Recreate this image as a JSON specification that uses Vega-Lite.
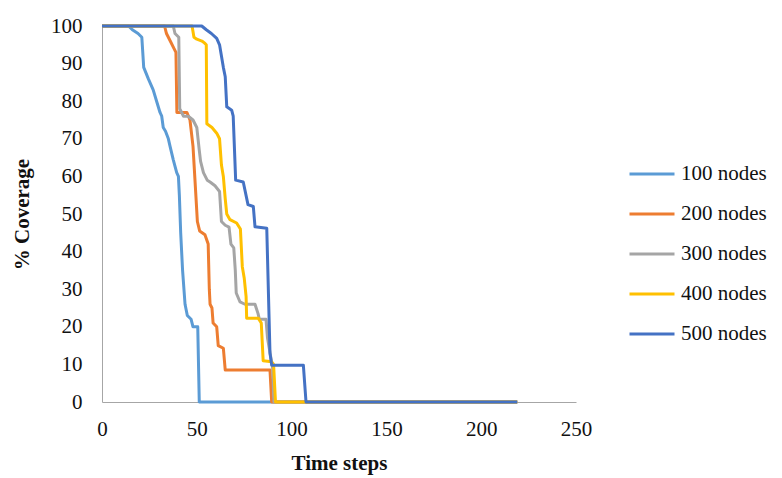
{
  "$schema": "https://vega.github.io/schema/vega-lite/v6.json",
  "width": 474,
  "height": 376,
  "autosize": "none",
  "padding": {"left": 102, "top": 26, "right": 206, "bottom": 76},
  "background": "white",
  "config": {
    "view": {"stroke": null},
    "font": "Liberation Serif",
    "style": {
      "guide-label": {"font": "Liberation Serif", "fontSize": 21, "fill": "#111111"},
      "guide-title": {"font": "Liberation Serif", "fontSize": 21, "fill": "#111111"}
    },
    "axis": {
      "grid": false,
      "ticks": false,
      "labelFlush": false,
      "domainColor": "#A6A6A6",
      "domainWidth": 1,
      "labelFont": "Liberation Serif",
      "labelFontSize": 21,
      "labelColor": "#111111",
      "titleFont": "Liberation Serif",
      "titleFontSize": 21,
      "titleFontWeight": "bold",
      "titleColor": "#111111"
    },
    "legend": {
      "labelFont": "Liberation Serif",
      "labelFontSize": 21,
      "labelColor": "#111111"
    }
  },
  "data": {
    "values": [
      {"s": "100 nodes", "i": 1, "t": 0, "v": 100},
      {"s": "100 nodes", "i": 2, "t": 14, "v": 100},
      {"s": "100 nodes", "i": 3, "t": 16, "v": 99},
      {"s": "100 nodes", "i": 4, "t": 19, "v": 98},
      {"s": "100 nodes", "i": 5, "t": 21, "v": 97},
      {"s": "100 nodes", "i": 6, "t": 22, "v": 89},
      {"s": "100 nodes", "i": 7, "t": 24.4, "v": 86},
      {"s": "100 nodes", "i": 8, "t": 27, "v": 83},
      {"s": "100 nodes", "i": 9, "t": 28.8, "v": 80},
      {"s": "100 nodes", "i": 10, "t": 30.6, "v": 77},
      {"s": "100 nodes", "i": 11, "t": 31.5, "v": 76},
      {"s": "100 nodes", "i": 12, "t": 32.3, "v": 73},
      {"s": "100 nodes", "i": 13, "t": 33.5, "v": 72},
      {"s": "100 nodes", "i": 14, "t": 35, "v": 70},
      {"s": "100 nodes", "i": 15, "t": 35.9, "v": 68},
      {"s": "100 nodes", "i": 16, "t": 37.6, "v": 64.4},
      {"s": "100 nodes", "i": 17, "t": 39.4, "v": 61},
      {"s": "100 nodes", "i": 18, "t": 40.3, "v": 60},
      {"s": "100 nodes", "i": 19, "t": 40.8, "v": 55},
      {"s": "100 nodes", "i": 20, "t": 41.5, "v": 45},
      {"s": "100 nodes", "i": 21, "t": 42.5, "v": 35},
      {"s": "100 nodes", "i": 22, "t": 43.8, "v": 26},
      {"s": "100 nodes", "i": 23, "t": 45, "v": 23},
      {"s": "100 nodes", "i": 24, "t": 47, "v": 22},
      {"s": "100 nodes", "i": 25, "t": 48, "v": 20},
      {"s": "100 nodes", "i": 26, "t": 50.5, "v": 20},
      {"s": "100 nodes", "i": 27, "t": 51.3, "v": 0},
      {"s": "100 nodes", "i": 28, "t": 219, "v": 0},

      {"s": "200 nodes", "i": 1, "t": 0, "v": 100},
      {"s": "200 nodes", "i": 2, "t": 33, "v": 100},
      {"s": "200 nodes", "i": 3, "t": 34, "v": 98},
      {"s": "200 nodes", "i": 4, "t": 36, "v": 96},
      {"s": "200 nodes", "i": 5, "t": 38, "v": 94},
      {"s": "200 nodes", "i": 6, "t": 39, "v": 93},
      {"s": "200 nodes", "i": 7, "t": 39.5, "v": 77},
      {"s": "200 nodes", "i": 8, "t": 44.8, "v": 77},
      {"s": "200 nodes", "i": 9, "t": 46.4, "v": 75},
      {"s": "200 nodes", "i": 10, "t": 48, "v": 68},
      {"s": "200 nodes", "i": 11, "t": 49.5, "v": 55},
      {"s": "200 nodes", "i": 12, "t": 50.3, "v": 48},
      {"s": "200 nodes", "i": 13, "t": 51.5, "v": 45.5},
      {"s": "200 nodes", "i": 14, "t": 54.3, "v": 44.5},
      {"s": "200 nodes", "i": 15, "t": 56, "v": 42},
      {"s": "200 nodes", "i": 16, "t": 56.6, "v": 30},
      {"s": "200 nodes", "i": 17, "t": 57, "v": 26},
      {"s": "200 nodes", "i": 18, "t": 58, "v": 25},
      {"s": "200 nodes", "i": 19, "t": 58.6, "v": 21},
      {"s": "200 nodes", "i": 20, "t": 60.5, "v": 20},
      {"s": "200 nodes", "i": 21, "t": 61.3, "v": 15},
      {"s": "200 nodes", "i": 22, "t": 64, "v": 14.3},
      {"s": "200 nodes", "i": 23, "t": 65, "v": 8.5},
      {"s": "200 nodes", "i": 24, "t": 88.6, "v": 8.5},
      {"s": "200 nodes", "i": 25, "t": 89.5, "v": 0},
      {"s": "200 nodes", "i": 26, "t": 219, "v": 0},

      {"s": "300 nodes", "i": 1, "t": 0, "v": 100},
      {"s": "300 nodes", "i": 2, "t": 37.6, "v": 100},
      {"s": "300 nodes", "i": 3, "t": 38.5, "v": 98},
      {"s": "300 nodes", "i": 4, "t": 40.5, "v": 97},
      {"s": "300 nodes", "i": 5, "t": 41, "v": 78},
      {"s": "300 nodes", "i": 6, "t": 43, "v": 76},
      {"s": "300 nodes", "i": 7, "t": 45.5, "v": 76},
      {"s": "300 nodes", "i": 8, "t": 48, "v": 75},
      {"s": "300 nodes", "i": 9, "t": 50, "v": 73},
      {"s": "300 nodes", "i": 10, "t": 51.3, "v": 67},
      {"s": "300 nodes", "i": 11, "t": 52, "v": 64},
      {"s": "300 nodes", "i": 12, "t": 53.5, "v": 61},
      {"s": "300 nodes", "i": 13, "t": 55.5, "v": 59},
      {"s": "300 nodes", "i": 14, "t": 57, "v": 58.5},
      {"s": "300 nodes", "i": 15, "t": 59.6, "v": 57.5},
      {"s": "300 nodes", "i": 16, "t": 62, "v": 56},
      {"s": "300 nodes", "i": 17, "t": 63, "v": 48},
      {"s": "300 nodes", "i": 18, "t": 65, "v": 47},
      {"s": "300 nodes", "i": 19, "t": 67, "v": 46.5},
      {"s": "300 nodes", "i": 20, "t": 68, "v": 42},
      {"s": "300 nodes", "i": 21, "t": 69.5, "v": 41},
      {"s": "300 nodes", "i": 22, "t": 70.3, "v": 35},
      {"s": "300 nodes", "i": 23, "t": 70.8, "v": 29},
      {"s": "300 nodes", "i": 24, "t": 72.8, "v": 26.6},
      {"s": "300 nodes", "i": 25, "t": 75.4, "v": 26},
      {"s": "300 nodes", "i": 26, "t": 80.7, "v": 26},
      {"s": "300 nodes", "i": 27, "t": 82.3, "v": 23.5},
      {"s": "300 nodes", "i": 28, "t": 83, "v": 22},
      {"s": "300 nodes", "i": 29, "t": 86.5, "v": 22},
      {"s": "300 nodes", "i": 30, "t": 87.3, "v": 17},
      {"s": "300 nodes", "i": 31, "t": 89, "v": 12},
      {"s": "300 nodes", "i": 32, "t": 90, "v": 9},
      {"s": "300 nodes", "i": 33, "t": 90.7, "v": 0},
      {"s": "300 nodes", "i": 34, "t": 219, "v": 0},

      {"s": "400 nodes", "i": 1, "t": 0, "v": 100},
      {"s": "400 nodes", "i": 2, "t": 47.5, "v": 100},
      {"s": "400 nodes", "i": 3, "t": 48.5, "v": 97},
      {"s": "400 nodes", "i": 4, "t": 50, "v": 96.5},
      {"s": "400 nodes", "i": 5, "t": 52.7, "v": 96},
      {"s": "400 nodes", "i": 6, "t": 54, "v": 95.5},
      {"s": "400 nodes", "i": 7, "t": 55, "v": 95},
      {"s": "400 nodes", "i": 8, "t": 55.3, "v": 74},
      {"s": "400 nodes", "i": 9, "t": 58, "v": 73},
      {"s": "400 nodes", "i": 10, "t": 60.5, "v": 71.5},
      {"s": "400 nodes", "i": 11, "t": 62, "v": 70},
      {"s": "400 nodes", "i": 12, "t": 63, "v": 63},
      {"s": "400 nodes", "i": 13, "t": 64, "v": 60},
      {"s": "400 nodes", "i": 14, "t": 65, "v": 54},
      {"s": "400 nodes", "i": 15, "t": 65.8, "v": 50},
      {"s": "400 nodes", "i": 16, "t": 67.5, "v": 48.5},
      {"s": "400 nodes", "i": 17, "t": 71, "v": 47.6},
      {"s": "400 nodes", "i": 18, "t": 73, "v": 46},
      {"s": "400 nodes", "i": 19, "t": 74, "v": 36},
      {"s": "400 nodes", "i": 20, "t": 75, "v": 33},
      {"s": "400 nodes", "i": 21, "t": 76, "v": 28},
      {"s": "400 nodes", "i": 22, "t": 76.3, "v": 22.3},
      {"s": "400 nodes", "i": 23, "t": 82.4, "v": 22.3},
      {"s": "400 nodes", "i": 24, "t": 84, "v": 21},
      {"s": "400 nodes", "i": 25, "t": 85, "v": 11},
      {"s": "400 nodes", "i": 26, "t": 89.5, "v": 10.7},
      {"s": "400 nodes", "i": 27, "t": 90.5, "v": 10},
      {"s": "400 nodes", "i": 28, "t": 91.5, "v": 0},
      {"s": "400 nodes", "i": 29, "t": 219, "v": 0},

      {"s": "500 nodes", "i": 1, "t": 0, "v": 100},
      {"s": "500 nodes", "i": 2, "t": 52.6, "v": 100},
      {"s": "500 nodes", "i": 3, "t": 55, "v": 99},
      {"s": "500 nodes", "i": 4, "t": 57.7, "v": 98},
      {"s": "500 nodes", "i": 5, "t": 60.5, "v": 96.7},
      {"s": "500 nodes", "i": 6, "t": 62, "v": 95},
      {"s": "500 nodes", "i": 7, "t": 64, "v": 89},
      {"s": "500 nodes", "i": 8, "t": 65, "v": 86.5},
      {"s": "500 nodes", "i": 9, "t": 65.8, "v": 78.5},
      {"s": "500 nodes", "i": 10, "t": 68.4, "v": 77.6},
      {"s": "500 nodes", "i": 11, "t": 69.2, "v": 76},
      {"s": "500 nodes", "i": 12, "t": 70.5, "v": 59},
      {"s": "500 nodes", "i": 13, "t": 74.5, "v": 58.5},
      {"s": "500 nodes", "i": 14, "t": 77, "v": 52.5},
      {"s": "500 nodes", "i": 15, "t": 79.8, "v": 52},
      {"s": "500 nodes", "i": 16, "t": 80.7, "v": 46.6},
      {"s": "500 nodes", "i": 17, "t": 86.9, "v": 46.2},
      {"s": "500 nodes", "i": 18, "t": 88.6, "v": 13},
      {"s": "500 nodes", "i": 19, "t": 89.5, "v": 9.8},
      {"s": "500 nodes", "i": 20, "t": 106.2, "v": 9.8},
      {"s": "500 nodes", "i": 21, "t": 107.6, "v": 0},
      {"s": "500 nodes", "i": 22, "t": 219, "v": 0}
    ]
  },
  "mark": {"type": "line", "strokeWidth": 3, "strokeJoin": "round"},
  "encoding": {
    "x": {
      "field": "t",
      "type": "quantitative",
      "scale": {"domain": [0, 250], "nice": false},
      "axis": {
        "values": [0, 50, 100, 150, 200, 250],
        "labelFlush": false,
        "labelFont": "Liberation Serif",
        "labelFontSize": 21,
        "labelPadding": 16,
        "title": "Time steps",
        "titleFont": "Liberation Serif",
        "titleX": 237,
        "titleY": 61,
        "titleBaseline": "middle",
        "titleAlign": "center"
      }
    },
    "y": {
      "field": "v",
      "type": "quantitative",
      "scale": {"domain": [0, 100], "nice": false},
      "axis": {
        "values": [0, 10, 20, 30, 40, 50, 60, 70, 80, 90, 100],
        "labelFlush": false,
        "labelFont": "Liberation Serif",
        "labelFontSize": 21,
        "labelPadding": 20,
        "title": "% Coverage",
        "titleFont": "Liberation Serif",
        "titleX": -80,
        "titleY": 188,
        "titleAngle": -90,
        "titleBaseline": "middle",
        "titleAlign": "center"
      }
    },
    "color": {
      "field": "s",
      "type": "nominal",
      "scale": {
        "domain": ["100 nodes", "200 nodes", "300 nodes", "400 nodes", "500 nodes"],
        "range": ["#5B9BD5", "#ED7D31", "#A5A5A5", "#FFC000", "#4472C4"]
      },
      "legend": {
        "title": null,
        "orient": "none",
        "legendX": 526,
        "legendY": 124,
        "padding": 0,
        "symbolType": "stroke",
        "symbolSize": 2025,
        "symbolStrokeWidth": 3,
        "rowPadding": 6,
        "labelOffset": 5,
        "labelFont": "Liberation Serif",
        "labelFontSize": 21
      }
    },
    "order": {"field": "i", "type": "quantitative"}
  }
}
